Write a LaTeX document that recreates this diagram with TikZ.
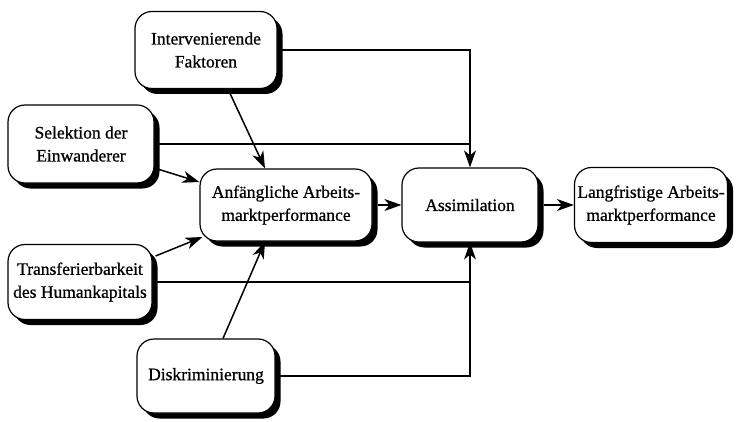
\documentclass[tikz,border=0pt]{standalone}
\usepackage{fontspec}
\setmainfont{Liberation Serif}
\newfontfamily\tmsfont{Liberation Serif}[FakeBold=0.8]
\usetikzlibrary{arrows.meta,shadows,calc}
\begin{document}
\begin{tikzpicture}[x=1pt,y=-1pt,
  box/.style={draw=black,line width=1.2pt,fill=white,rounded corners=17pt,
    align=center,inner sep=0pt,
    font=\tmsfont\fontsize{17.5}{23}\selectfont,
    drop shadow={shadow xshift=5.5pt,shadow yshift=-5.5pt,fill=black,opacity=1}},
  arr/.style={line width=1.5pt,-{Stealth[length=17pt,width=12pt,inset=5pt]}},
  ln/.style={line width=1.2pt}]
\useasboundingbox (0,0) rectangle (738,422);
\node[box,minimum width=142pt,minimum height=77pt] (int) at (206,50) {Intervenierende\\Faktoren};
\node[box,minimum width=146pt,minimum height=78pt] (sel) at (81,144) {Selektion der\\Einwanderer};
\node[box,minimum width=172pt,minimum height=72pt] (anf) at (286,205) {Anfängliche Arbeits-\\marktperformance};
\node[box,minimum width=144pt,minimum height=75pt] (tra) at (80,282) {Transferierbarkeit\\des Humankapitals};
\node[box,minimum width=138pt,minimum height=74pt] (dis) at (206,376) {Diskriminierung};
\node[box,minimum width=136pt,minimum height=74pt] (ass) at (470,205) {Assimilation};
\node[box,minimum width=153pt,minimum height=75pt] (lan) at (651,205) {Langfristige Arbeits-\\marktperformance};

\draw[arr] ($(int.south)+(22,0)$) -- ($(anf.north)+(-21,0)$);
\draw[arr] ($(sel.east)+(3,25)$) -- ($(anf.west)+(0,-23)$);
\draw[arr] ($(tra.east)+(3,-26)$) -- ($(anf.west)+(3,32)$);
\draw[arr] ($(dis.north)+(17,0)$) -- ($(anf.south)+(-21,0)$);

\draw[ln] (sel.east) -- (sel.east -| ass.north);
\draw[ln] (tra.east) -- (tra.east -| ass.south);
\draw[arr,line width=1.2pt] (int.east) -| (ass.north);
\draw[arr,line width=1.2pt] (dis.east) -| (ass.south);

\draw[arr] ($(anf.east)+(5,0)$) -- (ass.west);
\draw[arr] ($(ass.east)+(5,0)$) -- (lan.west);
\end{tikzpicture}
\end{document}
